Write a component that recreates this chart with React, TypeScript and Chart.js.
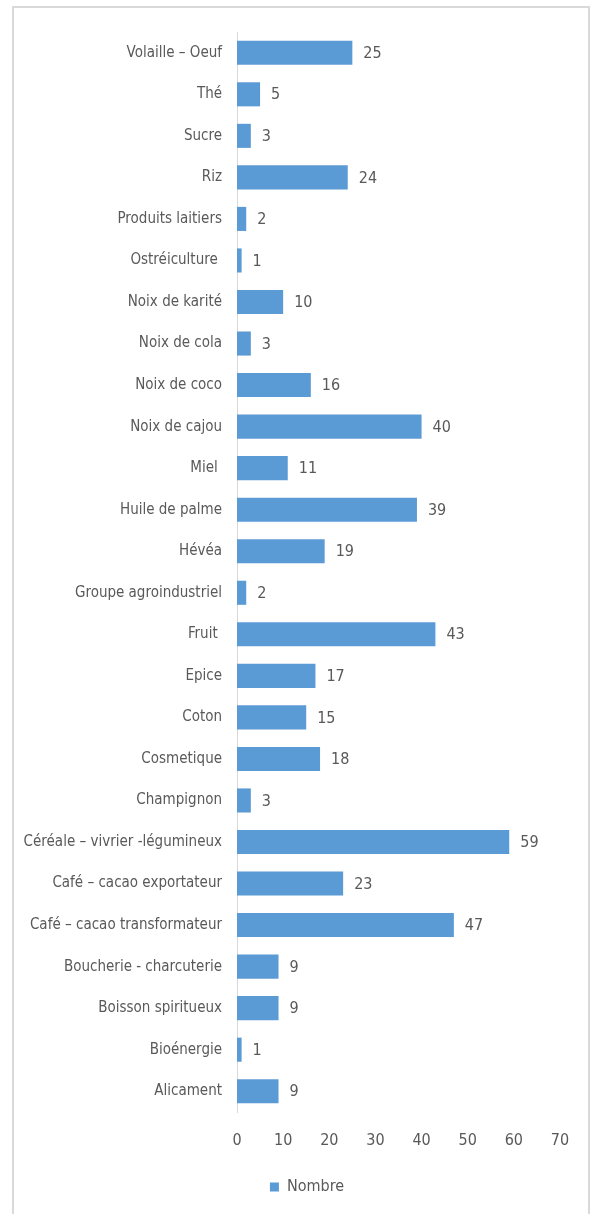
import React, { useEffect, useRef } from "react";
import { Chart, registerables } from "chart.js";

Chart.register(...registerables);

const categories = [
  "Volaille – Oeuf",
  "Thé",
  "Sucre",
  "Riz",
  "Produits laitiers",
  "Ostréiculture ",
  "Noix de karité",
  "Noix de cola",
  "Noix de coco",
  "Noix de cajou",
  "Miel ",
  "Huile de palme",
  "Hévéa",
  "Groupe agroindustriel",
  "Fruit ",
  "Epice",
  "Coton",
  "Cosmetique",
  "Champignon",
  "Céréale – vivrier -légumineux",
  "Café – cacao exportateur",
  "Café – cacao transformateur",
  "Boucherie - charcuterie",
  "Boisson spiritueux",
  "Bioénergie",
  "Alicament",
];

const nombre = [25, 5, 3, 24, 2, 1, 10, 3, 16, 40, 11, 39, 19, 2, 43, 17, 15, 18, 3, 59, 23, 47, 9, 9, 1, 9];

const seriesName = "Nombre";
const xTicks = [0, 10, 20, 30, 40, 50, 60, 70];

const FONT = "'Liberation Sans Narrow', 'DejaVu Sans Condensed', 'Liberation Sans', sans-serif";
const SIZE = 15;
const TEXT = "#595959";
const BAR = "#5B9BD5";

const valueLabels = {
  id: "valueLabels",
  afterDatasetsDraw(chart: any) {
    const ctx = chart.ctx;
    const meta = chart.getDatasetMeta(0);
    ctx.save();
    ctx.fillStyle = TEXT;
    ctx.font = `${SIZE + 1}px ${FONT}`;
    ctx.textAlign = "left";
    ctx.textBaseline = "middle";
    meta.data.forEach((bar: any, i: number) => {
      ctx.fillText(String(chart.data.datasets[0].data[i]), bar.x + 11, bar.y + 1);
    });
    ctx.restore();
  },
};

export default function App() {
  const ref = useRef<HTMLCanvasElement | null>(null);
  useEffect(() => {
    if (!ref.current) return;
    const chart = new Chart(ref.current, {
      type: "bar",
      data: {
        labels: categories,
        datasets: [
          {
            label: seriesName,
            data: nombre,
            backgroundColor: BAR,
            borderWidth: 0,
            barPercentage: 0.58,
            categoryPercentage: 1,
          },
        ],
      },
      options: {
        indexAxis: "y",
        animation: false,
        responsive: false,
        maintainAspectRatio: false,
        layout: { padding: { top: 32, right: -18, bottom: 9, left: 0 } },
        scales: {
          x: {
            min: 0,
            max: 70,
            afterBuildTicks: (s: any) => {
              s.ticks = xTicks.map((v) => ({ value: v }));
            },
            afterFit: (s: any) => {
              s.height = 57;
            },
            grid: { display: false, drawTicks: false },
            border: { display: false },
            ticks: { color: TEXT, font: { family: FONT, size: SIZE + 1 }, padding: 19, maxRotation: 0 },
          },
          y: {
            afterFit: (s: any) => {
              s.width = 237;
            },
            grid: { display: false, drawTicks: false },
            border: { display: true, color: "#d9d9d9", width: 1 },
            ticks: { color: TEXT, font: { family: FONT, size: SIZE }, padding: 15, autoSkip: false },
          },
          yRightSpacer: {
            type: "category",
            position: "right",
            afterFit: (s: any) => {
              s.width = 54;
            },
            grid: { display: false, drawTicks: false },
            border: { display: false },
            ticks: { display: false },
          },
        },
        plugins: {
          legend: {
            position: "bottom",
            labels: {
              color: TEXT,
              font: { family: FONT, size: SIZE + 1 },
              boxWidth: 9,
              boxHeight: 9,
              padding: 10,
            },
          },
          tooltip: { enabled: false },
        },
      },
      plugins: [valueLabels],
    });
    return () => chart.destroy();
  }, []);
  return (
    <div style={{ position: "fixed", left: 0, top: 0, width: 596, height: 1214, background: "#fff" }}>
      <div
        style={{
          position: "absolute",
          left: 12,
          top: 6,
          width: 578,
          height: 1220,
          border: "2px solid #d9d9d9",
          boxSizing: "border-box",
        }}
      />
      <canvas ref={ref} width={596} height={1214} style={{ position: "absolute", left: 0, top: 0 }} />
    </div>
  );
}
